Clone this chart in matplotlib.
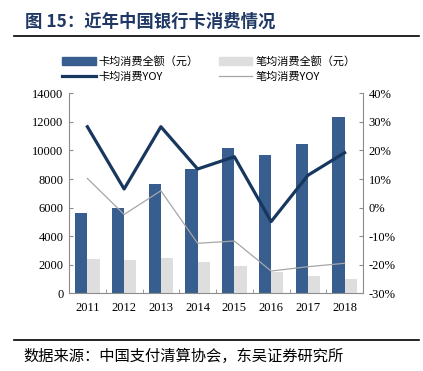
import matplotlib
matplotlib.use("Agg")
import matplotlib.pyplot as plt
import numpy as np
from matplotlib.lines import Line2D
from matplotlib.patches import Patch

years = ["2011", "2012", "2013", "2014", "2015", "2016", "2017", "2018"]
card_avg = [5600, 6000, 7650, 8680, 10190, 9700, 10430, 12320]
txn_avg = [2400, 2330, 2470, 2170, 1910, 1490, 1210, 980]
card_yoy = [28.3, 6.5, 28.3, 13.5, 17.8, -4.9, 11.3, 19.2]
txn_yoy = [10.2, -2.4, 5.9, -12.5, -11.7, -22.2, -20.7, -19.5]

left_ticks = [0, 2000, 4000, 6000, 8000, 10000, 12000, 14000]
right_ticks = [-30, -20, -10, 0, 10, 20, 30, 40]

CJK = ["Noto Sans CJK SC", "DejaVu Sans"]
NUM = "Liberation Serif"
BLUE = "#375e8f"
LGRAY = "#dedede"
DARK = "#17375e"
LINEG = "#a6a6a6"
AXC = "#8c8c8c"

fig = plt.figure(figsize=(4.23, 3.71), dpi=100)
ax = fig.add_axes([69/423, 1-293.3/371, (363-69)/423, 200/371])
ax2 = ax.twinx()

x = np.arange(len(years))
w = 0.33
ax.bar(x - 0.165, card_avg, width=w, color=BLUE, zorder=2)
ax.bar(x + 0.165, txn_avg, width=w, color=LGRAY, zorder=2)
ax.set_xlim(-0.5, len(years) - 0.5)
ax.set_ylim(0, 14000)
ax.set_yticks(left_ticks)
ax.set_yticklabels([str(v) for v in left_ticks], fontfamily=NUM, fontsize=9)
ax.set_xticks(x)
ax.set_xticklabels(years, fontfamily=NUM, fontsize=9)
ax.tick_params(axis="x", length=0, pad=6)
ax.tick_params(axis="y", direction="in", length=3, color=AXC, pad=4)
ax.set_xticks(np.arange(0.5, len(years) - 0.5, 1), minor=True)
ax.tick_params(axis="x", which="minor", direction="in", length=3, color=AXC)

ax2.plot(x, card_yoy, color=DARK, lw=2.3, zorder=3)
ax2.plot(x, txn_yoy, color=LINEG, lw=0.9, zorder=3)
ax2.set_ylim(-30, 40)
ax2.set_yticks(right_ticks)
ax2.set_yticklabels([f"{v}%" for v in right_ticks], fontfamily=NUM, fontsize=9)
ax2.tick_params(axis="y", direction="in", length=3, color=AXC, pad=4)

for a in (ax, ax2):
    a.spines["top"].set_visible(False)
    for s in ("left", "right", "bottom"):
        a.spines[s].set_color(AXC)
        a.spines[s].set_linewidth(0.8)
ax.spines["right"].set_visible(False)
ax2.spines["left"].set_visible(False)
ax2.spines["bottom"].set_visible(False)

# title and rules
fig.text(25/423, 1-22/371, "图 15：近年中国银行卡消费情况", fontfamily=CJK, fontsize=12.5,
         fontweight="bold", color="#1f3864", va="center", ha="left")
fig.add_artist(Line2D([14/423, 419/423], [1-36/371, 1-36/371], color="black", lw=1.2))
fig.add_artist(Line2D([14/423, 419/423], [1-340/371, 1-340/371], color="black", lw=1.2))
fig.text(23/423, 1-356/371, "数据来源：中国支付清算协会，东吴证券研究所", fontfamily=CJK, fontsize=11,
         va="center", ha="left")

handles = [Patch(color=BLUE), Line2D([], [], color=DARK, lw=2.3),
           Patch(color=LGRAY), Line2D([], [], color=LINEG, lw=0.9)]
labels = ["卡均消费全额（元）", "卡均消费YOY", "笔均消费全额（元）", "笔均消费YOY"]
fig.legend(handles, labels, loc="upper left", bbox_to_anchor=(60/423, 1-54/371), ncol=2,
           frameon=False, prop={"family": CJK, "size": 8}, handlelength=3.0,
           handleheight=0.8, columnspacing=1.8, handletextpad=0.3, labelspacing=0.45,
           borderaxespad=0, borderpad=0.2)

fig.savefig("out.png", dpi=100)
